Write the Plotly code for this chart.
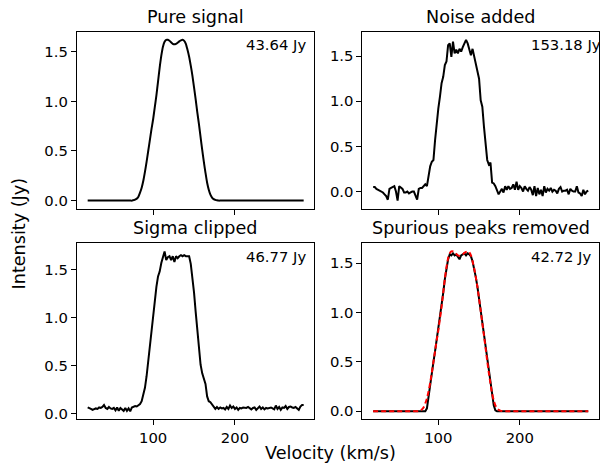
import plotly.graph_objects as go

# ---------------- data ----------------
velocity = list(range(20, 286, 2))  # km/s channel centres

pure_core = [0.005, 0.01, 0.02, 0.04, 0.08, 0.13, 0.20, 0.29, 0.39, 0.50,
             0.61, 0.72, 0.82, 0.94, 1.06, 1.20, 1.34, 1.46, 1.55, 1.60,
             1.62, 1.62, 1.61, 1.595, 1.58, 1.575, 1.58, 1.59, 1.605, 1.615,
             1.62, 1.61, 1.58, 1.52, 1.45, 1.36, 1.26, 1.14, 1.02, 0.89,
             0.77, 0.64, 0.51, 0.39, 0.28, 0.18, 0.11, 0.06, 0.03, 0.015,
             0.007, 0.003]
pure = [0.0] * 28 + pure_core + [0.0] * 53

noisy = [0.05, 0.05, 0.03, 0.02, 0.01, 0.00, -0.01, -0.03, -0.05, -0.09,
         0.03, 0.04, 0.05, 0.06, 0.00, -0.10, 0.06, 0.04, 0.03, -0.01,
         -0.01, 0.00, -0.02, -0.01, 0.00, 0.00, -0.04, -0.09, 0.03, 0.04,
         0.04, 0.06, 0.08, 0.06, 0.20, 0.28, 0.33, 0.35, 0.57, 0.76,
         0.92, 1.05, 1.20, 1.27, 1.40, 1.44, 1.62, 1.64, 1.49, 1.66,
         1.53, 1.57, 1.53, 1.58, 1.55, 1.60, 1.64, 1.68, 1.64, 1.58,
         1.51, 1.58, 1.49, 1.42, 1.32, 1.25, 1.01, 0.94, 0.72, 0.54,
         0.35, 0.30, 0.32, 0.10, 0.09, 0.06, 0.02, -0.03, 0.00, 0.03,
         -0.01, 0.06, 0.02, 0.06, 0.03, 0.04, 0.08, 0.02, 0.11, 0.02,
         0.06, 0.04, 0.00, 0.06, 0.03, 0.01, 0.05, 0.02, -0.04, 0.06,
         -0.05, 0.04, -0.03, 0.02, -0.05, 0.06, -0.01, 0.03, 0.01, 0.04,
         0.00, 0.02, 0.01, -0.02, 0.03, 0.05, 0.00, 0.01, 0.01, 0.02,
         -0.03, 0.03, 0.01, 0.00, 0.00, 0.06, -0.01, -0.02, -0.05, 0.02,
         -0.03, 0.00, 0.01]

clipped = [0.065, 0.06, 0.05, 0.04, 0.05, 0.055, 0.05, 0.065, 0.06, 0.07,
           0.09, 0.06, 0.05, 0.07, 0.055, 0.05, 0.06, 0.035, 0.065, 0.03,
           0.06, 0.04, 0.03, 0.06, 0.03, 0.055, 0.025, 0.065, 0.07, 0.08,
           0.075, 0.085, 0.10, 0.13, 0.19, 0.27, 0.39, 0.55, 0.72, 0.89,
           1.06, 1.20, 1.32, 1.43, 1.48, 1.57, 1.62, 1.69, 1.60, 1.63,
           1.64, 1.60, 1.64, 1.58, 1.64, 1.62, 1.64, 1.65, 1.64, 1.65,
           1.64, 1.64, 1.64, 1.56, 1.42, 1.26, 1.06, 0.86, 0.67, 0.51,
           0.42, 0.35, 0.31, 0.18, 0.13, 0.12, 0.10, 0.075, 0.05, 0.07,
           0.05, 0.065, 0.055, 0.06, 0.045, 0.07, 0.05, 0.085, 0.06, 0.075,
           0.05, 0.065, 0.04, 0.06, 0.055, 0.065, 0.06, 0.06, 0.07, 0.06,
           0.045, 0.06, 0.065, 0.04, 0.06, 0.075, 0.05, 0.065, 0.045, 0.06,
           0.055, 0.06, 0.065, 0.055, 0.045, 0.085, 0.05, 0.07, 0.04, 0.065,
           0.06, 0.08, 0.05, 0.07, 0.075, 0.065, 0.06, 0.07, 0.05, 0.04,
           0.075, 0.09, 0.09]

cleaned_core = [0.03, 0.16, 0.29, 0.39, 0.50, 0.61, 0.72, 0.82, 0.94, 1.06,
                1.20, 1.34, 1.45, 1.54, 1.59, 1.58, 1.60, 1.58, 1.59, 1.56,
                1.54, 1.58, 1.59, 1.60, 1.58, 1.60, 1.59, 1.57, 1.52, 1.45,
                1.36, 1.26, 1.14, 1.02, 0.89, 0.77, 0.64, 0.51, 0.39, 0.28,
                0.16, 0.06, 0.01]
cleaned = [0.0] * 33 + cleaned_core + [0.0] * 57

titles = ["Pure signal", "Noise added", "Sigma clipped", "Spurious peaks removed"]
fluxes = ["43.64 Jy", "153.18 Jy", "46.77 Jy", "42.72 Jy"]
xtick_vals = [100, 200]
ytick_vals = [0.0, 0.5, 1.0, 1.5]
x_label = "Velocity (km/s)"
y_label = "Intensity (Jy)"

# ---------------- figure ----------------
W, H = 600, 468
FONT = "DejaVu Sans"
TITLE_SIZE = 17.6
TICK_SIZE = 14.8


def padded(vals, frac=0.05):
    lo, hi = min(vals), max(vals)
    d = (hi - lo) * frac
    return [lo - d, hi + d]


xrange_ = padded(velocity)
xdom = [[77 / W, 315 / W], [363 / W, 1.0]]
ydom = [[1 - 210 / H, 1 - 32 / H], [1 - 422 / H, 1 - 245 / H]]

fig = go.Figure()
# (row, col, [(values, colour, dash, shape), ...])
panels = [
    (0, 0, [(pure, "black", "solid", "spline")]),
    (0, 1, [(noisy, "black", "solid", "linear")]),
    (1, 0, [(clipped, "black", "solid", "linear")]),
    (1, 1, [(cleaned, "black", "solid", "linear"),
            (pure, "red", "5px,3px", "spline")]),
]

axis_common = dict(
    showline=True, linecolor="black", linewidth=1, mirror=True,
    ticks="outside", ticklen=5, tickwidth=1, tickcolor="black",
    showgrid=False, zeroline=False,
    tickfont=dict(family=FONT, size=TICK_SIZE, color="black"),
)

annotations = []
for i, (r, c, series) in enumerate(panels):
    n = i + 1
    xa = "x" if n == 1 else f"x{n}"
    ya = "y" if n == 1 else f"y{n}"
    allv = []
    for vals, col, dash, shape in series:
        allv += vals
        fig.add_trace(go.Scatter(
            x=velocity, y=vals, mode="lines", xaxis=xa, yaxis=ya,
            line=dict(color=col, width=2, dash=dash, shape=shape,
                      smoothing=0.6 if shape == "spline" else None),
            showlegend=False, hoverinfo="skip"))
    xkey = "xaxis" if n == 1 else f"xaxis{n}"
    ykey = "yaxis" if n == 1 else f"yaxis{n}"
    fig.layout[xkey] = dict(
        axis_common, domain=xdom[c], anchor=ya, range=xrange_,
        tickvals=xtick_vals, showticklabels=(r == 1))
    fig.layout[ykey] = dict(
        axis_common, domain=ydom[r], anchor=xa, range=padded(allv),
        tickvals=ytick_vals, ticktext=[f"{v:.1f}" for v in ytick_vals])
    annotations.append(dict(
        text=titles[i], xref=f"{xa} domain", yref=f"{ya} domain",
        x=0.5, y=1, xanchor="center", yanchor="middle", yshift=15,
        showarrow=False, font=dict(family=FONT, size=TITLE_SIZE, color="black")))
    annotations.append(dict(
        text=fluxes[i], xref=f"{xa} domain", yref=f"{ya} domain",
        x=0.705, y=1, xanchor="left", yanchor="middle", yshift=-13,
        showarrow=False, font=dict(family=FONT, size=TICK_SIZE, color="black")))

annotations.append(dict(
    text=x_label, xref="paper", yref="paper", x=331 / W, y=1 - 456 / H,
    xanchor="center", yanchor="middle", showarrow=False,
    font=dict(family=FONT, size=TITLE_SIZE, color="black")))
annotations.append(dict(
    text=y_label, xref="paper", yref="paper", x=20 / W, y=1 - 235 / H,
    xanchor="center", yanchor="middle", textangle=-90, showarrow=False,
    font=dict(family=FONT, size=TITLE_SIZE, color="black")))

fig.update_layout(
    width=W, height=H, margin=dict(l=0, r=0, t=0, b=0),
    paper_bgcolor="white", plot_bgcolor="white",
    annotations=annotations, showlegend=False,
)

fig.write_html("out.html")
